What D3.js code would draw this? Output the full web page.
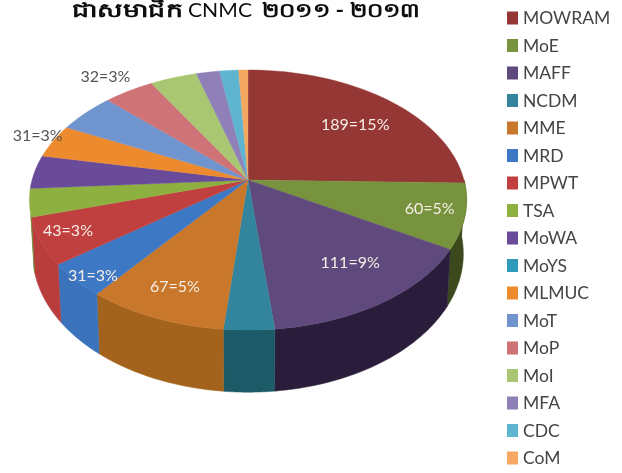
<!DOCTYPE html>
<html>
<head>
<meta charset="utf-8">
<script src="https://cdn.jsdelivr.net/npm/d3@7"></script>
<style>
    html, body { margin: 0; padding: 0; background: #fff; }
    svg { display: block; }
    text { font-family: Lato, "Open Sans", sans-serif; }
</style>
</head>
<body>
<div id="chart"></div>
<script>
// Data
const categories = ["MOWRAM", "MoE", "MAFF", "NCDM", "MME", "MRD", "MPWT", "TSA", "MoWA", "MoYS", "MLMUC", "MoT", "MoP", "MoI", "MFA", "CDC", "CoM"]
// MoYS is in the legend but has no visible slice
const values = [189, 60, 111, 24, 67, 31, 43, 26, 31, 0, 31, 37, 32, 30, 15, 12, 6]
const labelTexts = ["189=15%", "60=5%", "111=9%", null, "67=5%", "31=3%", "43=3%", null, null, null, "31=3%", null, "32=3%", null, null, null, null]

const topColours = ["#953735", "#77933C", "#604A7B", "#31859C", "#C9772B", "#3C78C4", "#C0403F", "#8DB040", "#6B4C9A", "#2F9BBB", "#EE8A2E", "#6F94CE", "#CF7376", "#A9C673", "#9080B8", "#5FB4D0", "#F5A862"]
const wallColours = ["#5a2120", "#3A4A1E", "#2A1F3A", "#1D5A68", "#A4641F", "#3A72BC", "#B93C3C", "#6a8a30", "#503a78", "#246f88", "#b86a20", "#5070a0", "#a05558", "#80984f", "#6f6090", "#4690a8", "#c08040"]

const WIDTH = 622
const HEIGHT = 473
const CX = 248, CY = 180     // the apex of the pie
const RX = 216, RY = 127     // radii of the unprojected disc
const TILT = 0.154           // perspective strength, front looks bigger than back
const DEPTH = 52.5           // wall height
const WALL_END = 255 * Math.PI / 180 // past the MPWT slice the wall is hidden

let svg = d3.select("#chart").append("svg")
    .attr("width", WIDTH)
    .attr("height", HEIGHT)

// the reference is a soft, low-res scan
svg.append("defs").append("filter").attr("id", "soft")
    .append("feGaussianBlur").attr("stdDeviation", 0.7)

let g = svg.append("g").attr("filter", "url(#soft)")

// Angle (clockwise from top) and radius on the disc -> screen position
function project(a, r, lowered) {
    const s = -Math.cos(a)
    const w = 1 - TILT * r * s
    const shrink = lowered ? 0.985 : 1
    const x = CX + shrink * RX * r * Math.sin(a) / w
    const y = CY + RY * r * s / w
    return [x, lowered ? y + DEPTH / w : y]
}

let pie = d3.pie().sort(null).value(d => d)
let slices = pie(values)

function samples(a0, a1) {
    return d3.range(0, 41).map(i => a0 + (a1 - a0) * i / 40)
}

let line = d3.line()

// Walls, only the front of the rim can be seen
g.selectAll(".wall")
    .data(slices.filter(d => d.value > 0 && d.endAngle > Math.PI / 2 && d.startAngle < WALL_END))
    .enter()
    .append("path")
    .attr("class", "wall")
    .attr("fill", d => wallColours[d.index])
    .attr("stroke", d => wallColours[d.index])
    .attr("stroke-width", 0.5)
    .attr("d", d => {
        const a0 = Math.max(d.startAngle, Math.PI / 2)
        const a1 = Math.min(d.endAngle, WALL_END)
        const rim = samples(a0, a1)
        const upper = rim.map(a => project(a, 1, false))
        const lower = rim.slice().reverse().map(a => project(a, 1, true))
        return line(upper.concat(lower)) + "Z"
    })

// Top face
g.selectAll(".slice")
    .data(slices.filter(d => d.value > 0))
    .enter()
    .append("path")
    .attr("class", "slice")
    .attr("fill", d => topColours[d.index])
    .attr("stroke", d => topColours[d.index])
    .attr("stroke-width", 0.4)
    .attr("d", d => line([[CX, CY]].concat(samples(d.startAngle, d.endAngle).map(a => project(a, 1, false)))) + "Z")

// Value labels, the radius says how far out along the slice each one sits, then a small nudge
const labelRadius = {0: 0.72, 1: 0.834, 2: 0.728, 4: 0.798, 5: 0.925, 6: 0.867, 10: 1.094, 12: 1.217}
const labelNudge = {0: [4, 4], 1: [2, -2], 2: [8, -3], 4: [-1, 0], 5: [3, 4], 6: [-2, -2], 10: [2, -2], 12: [-1, 2]}
g.selectAll(".label")
    .data(slices.filter(d => labelTexts[d.index]))
    .enter()
    .append("text")
    .attr("class", "label")
    .attr("text-anchor", "middle")
    .attr("dy", "0.35em")
    .attr("font-size", 16)
    .attr("fill", d => labelRadius[d.index] > 1 ? "#555" : "#f6eee6")
    .attr("x", d => project((d.startAngle + d.endAngle) / 2, labelRadius[d.index], false)[0] + labelNudge[d.index][0])
    .attr("y", d => project((d.startAngle + d.endAngle) / 2, labelRadius[d.index], false)[1] + labelNudge[d.index][1])
    .text(d => labelTexts[d.index])

// Legend
let legendY = d3.scalePoint().domain(categories).range([18, 458])
let legend = g.selectAll(".legend")
    .data(categories)
    .enter()
    .append("g")
    .attr("class", "legend")
    .attr("transform", d => `translate(507,${legendY(d)})`)
legend.append("rect")
    .attr("x", 0).attr("y", -6.5)
    .attr("width", 11).attr("height", 13)
    .attr("fill", (d, i) => topColours[i])
legend.append("text")
    .attr("x", 16)
    .attr("dy", "0.36em")
    .attr("font-size", 17.5)
    .attr("fill", "#444")
    .text(d => d)

// Title, three pieces so each one can take its width from the reference
const titleParts = [
    {text: "ជាសមាជិក", x: 72, len: 111, weight: "bold"},
    {text: "CNMC", x: 188, len: 64, weight: "normal"},
    {text: "២០១១ - ២០១៣", x: 262, len: 158, weight: "bold"}
]
g.selectAll(".title")
    .data(titleParts)
    .enter()
    .append("text")
    .attr("class", "title")
    .attr("x", d => d.x)
    .attr("y", 17)
    .attr("font-size", 20)
    .attr("font-weight", d => d.weight)
    .attr("fill", "#111")
    .attr("textLength", d => d.len)
    .attr("lengthAdjust", "spacingAndGlyphs")
    .text(d => d.text)
</script>
</body>
</html>
